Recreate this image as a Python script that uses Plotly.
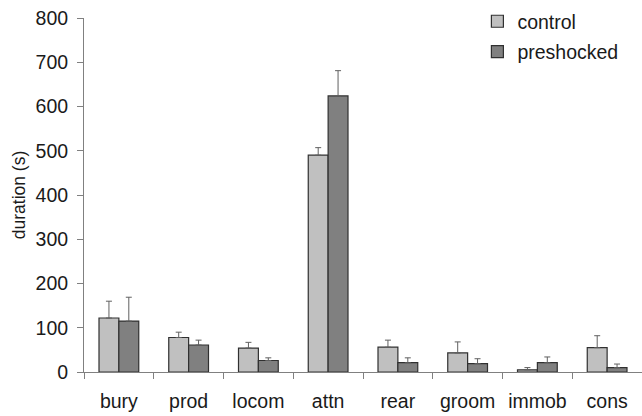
import plotly.graph_objects as go

categories = ["bury", "prod", "locom", "attn", "rear", "groom", "immob", "cons"]
control = [122, 78, 54, 490, 56, 43, 5, 55]
control_err = [38, 12, 13, 17, 16, 25, 5, 27]
preshocked = [115, 61, 26, 624, 21, 19, 21, 10]
preshocked_err = [54, 11, 6, 57, 11, 11, 13, 8]
y_ticks = [0, 100, 200, 300, 400, 500, 600, 700, 800]

FONT = "Liberation Sans, Arial, sans-serif"
TXT = "#1a1a1a"

fig = go.Figure()
fig.add_trace(go.Bar(
    x=categories, y=control, name="control", legendgroup="a",
    marker=dict(color="#c0c0c0", line=dict(color="#303030", width=1.2)),
    error_y=dict(type="data", array=control_err, arrayminus=[0]*len(control),
                 symmetric=False, color="#606060", thickness=1, width=3),
))
fig.add_trace(go.Bar(
    x=categories, y=preshocked, name="preshocked", legendgroup="b",
    marker=dict(color="#808080", line=dict(color="#303030", width=1.2)),
    error_y=dict(type="data", array=preshocked_err, arrayminus=[0]*len(preshocked),
                 symmetric=False, color="#606060", thickness=1, width=3),
))

fig.update_layout(
    width=642, height=416,
    margin=dict(l=84, r=0, t=18, b=44),
    paper_bgcolor="white", plot_bgcolor="white",
    barmode="group", bargap=0.43, bargroupgap=0,
    font=dict(family=FONT, size=18, color=TXT),
    showlegend=True,
    legend=dict(x=0.705, y=1.045, xanchor="left", yanchor="top",
                font=dict(size=19.5, color=TXT),
                traceorder="grouped", tracegroupgap=2,
                bgcolor="rgba(0,0,0,0)"),
    xaxis=dict(
        type="category", tickson="boundaries", ticks="outside", ticklen=6,
        tickcolor="#808080", showline=True, linecolor="#808080", linewidth=1,
        showgrid=False, tickfont=dict(size=19.5, color=TXT),
        ticklabelstandoff=12,
    ),
    yaxis=dict(
        range=[0, 800], tickvals=y_ticks, ticks="outside", ticklen=6,
        tickcolor="#808080", showline=True, linecolor="#808080", linewidth=1,
        showgrid=False, zeroline=False, tickfont=dict(size=19.5, color=TXT),
        ticklabelstandoff=5,
        title=dict(text="duration (s)", font=dict(size=17.5, color=TXT), standoff=5),
    ),
)

fig.write_html("out.html")
